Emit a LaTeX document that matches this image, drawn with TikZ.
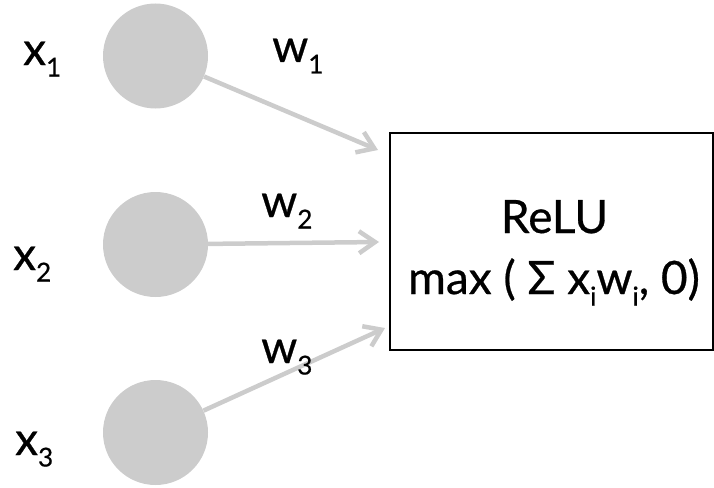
\documentclass[tikz,border=0pt]{standalone}
\usepackage{fontspec}
\setmainfont{Lato}
\newfontfamily\labelfont{Lato}[FakeBold=0.6]
\usetikzlibrary{arrows.meta}
% lowered, smaller index for x_i, w_i style labels
\newcommand{\lowsub}[1]{\raisebox{-0.25em}{\fontsize{26}{26}\selectfont #1}}
\begin{document}
\begin{tikzpicture}[x=1pt,y=-1pt,
  inp/.style={circle, fill=black!20, minimum size=105pt, inner sep=0pt},
  wire/.style={draw=black!20, line width=4.5pt, -{Straight Barb[length=16pt,width=22pt]}},
  lbl/.style={anchor=base west, inner sep=0pt, font=\labelfont\fontsize{46}{46}\selectfont},
  ctext/.style={anchor=base, inner sep=0pt, font=\labelfont\fontsize{46}{46}\selectfont}]
\useasboundingbox (0,0) rectangle (714,487);

% input neurons
\node[inp] (c1) at (155.5,56) {};
\node[inp] (c2) at (155.5,244.5) {};
\node[inp] (c3) at (155.5,432.5) {};

% unit box and its text
\node[draw, line width=1.8pt, minimum width=323pt, minimum height=217pt, inner sep=0pt] (unit) at (551.5,241.5) {};
\node[ctext] (relu) at (554.5,233) {ReLU};
\node[ctext] (fn) at (554,294) {max ( Σ x\lowsub{i}w\lowsub{i}, 0)};

% arrow end points
\coordinate (t1) at (378,150);
\coordinate (t2) at (379,242);
\coordinate (t3) at (385,328);

\draw[wire] (c1) -- (t1);
\draw[wire] (c2) -- (t2);
\draw[wire] (c3) -- (t3);

% input labels
\node[lbl] (x1) at (23,65) {x\lowsub{1}};
\node[lbl] (x2) at (13,270) {x\lowsub{2}};
\node[lbl] (x3) at (15,455) {x\lowsub{3}};

% weight labels
\node[lbl] (w1) at (272,62) {w\lowsub{1}};
\node[lbl] (w2) at (261,217) {w\lowsub{2}};
\node[lbl] (w3) at (261,363) {w\lowsub{3}};
\end{tikzpicture}
\end{document}
